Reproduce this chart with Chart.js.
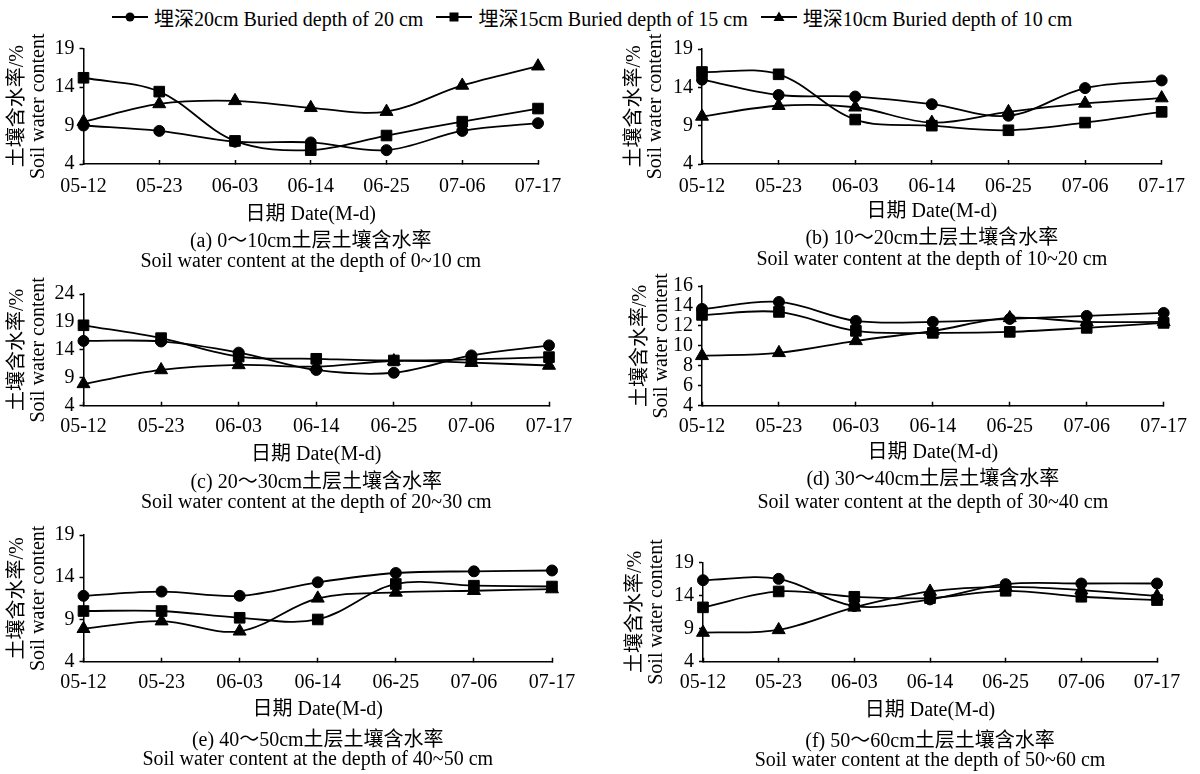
<!DOCTYPE html>
<html>
<head>
<meta charset="utf-8">
<script src="https://cdn.jsdelivr.net/npm/chart.js@4.4.1/dist/chart.umd.min.js"></script>
<style>
  html, body { margin: 0; padding: 0; background: #fff; }
  body { width: 1200px; height: 774px; position: relative; overflow: hidden;
         font-family: 'Liberation Serif', 'Noto Sans CJK SC', serif; color: #000; }
  canvas { position: absolute; }
  #legend { position: absolute; left: 112px; top: 5px; height: 24px; display: flex;
            align-items: center; font-size: 20px; white-space: nowrap; }
  #legend .item { display: flex; align-items: center; margin-right: 13px; }
  #legend svg { margin-right: 6px; }
</style>
</head>
<body>
<div id="legend"></div>
<canvas id="pa"></canvas>
<canvas id="pb"></canvas>
<canvas id="pc"></canvas>
<canvas id="pd"></canvas>
<canvas id="pe"></canvas>
<canvas id="pf"></canvas>
<script>
// Dates on the x axis
const dates = ['05-12', '05-23', '06-03', '06-14', '06-25', '07-06', '07-17'];

const seriesNames = [
    '埋深20cm Buried depth of 20 cm',
    '埋深15cm Buried depth of 15 cm',
    '埋深10cm Buried depth of 10 cm'
];

// (a) 0~10 cm
const a20 = [9.0, 8.3, 6.9, 6.8, 5.8, 8.3, 9.3];
const a15 = [15.2, 13.4, 7.0, 5.8, 7.7, 9.5, 11.2];
const a10 = [9.5, 11.8, 12.2, 11.3, 10.8, 14.2, 16.7];

// (b) 10~20 cm
const b20 = [15.0, 13.0, 12.8, 11.8, 10.3, 13.9, 14.9];
const b15 = [16.0, 15.7, 9.8, 9.0, 8.4, 9.4, 10.8];
const b10 = [10.2, 11.6, 11.4, 9.4, 10.8, 11.9, 12.6];

// (c) 20~30 cm
const c20 = [15.6, 15.5, 13.5, 10.4, 9.9, 13.0, 14.8];
const c15 = [18.4, 16.1, 12.8, 12.4, 12.1, 12.3, 12.7];
const c10 = [7.9, 10.4, 11.3, 11.0, 12.0, 11.7, 11.2];

// (d) 30~40 cm
const d20 = [13.7, 14.4, 12.5, 12.4, 12.7, 13.0, 13.3];
const d15 = [13.1, 13.4, 11.5, 11.3, 11.4, 11.8, 12.3];
const d10 = [9.0, 9.3, 10.5, 11.5, 12.8, 12.4, 12.4];

// (e) 40~50 cm
const e20 = [11.8, 12.3, 11.8, 13.4, 14.5, 14.7, 14.8];
const e15 = [10.0, 10.0, 9.2, 9.0, 13.2, 13.0, 12.9];
const e10 = [7.9, 8.8, 7.6, 11.5, 12.2, 12.4, 12.6];

// (f) 50~60 cm
const f20 = [16.3, 16.5, 12.4, 13.4, 15.7, 15.8, 15.8];
const f15 = [12.2, 14.6, 13.8, 13.6, 14.7, 13.8, 13.3];
const f10 = [8.4, 8.8, 12.2, 14.6, 15.3, 14.8, 13.9];

// y axis ranges [min, max, step]
const yRangeDefault = [4, 19, 5];
const yRangeC = [4, 24, 5];
const yRangeD = [4, 16, 2];

const yTitle = ['土壤含水率/%', 'Soil water content'];
const xTitle = '日期 Date(M-d)';

const captions = [
    ['(a) 0～10cm土层土壤含水率', 'Soil water content at the depth of 0~10 cm'],
    ['(b) 10～20cm土层土壤含水率', 'Soil water content at the depth of 10~20 cm'],
    ['(c) 20～30cm土层土壤含水率', 'Soil water content at the depth of 20~30 cm'],
    ['(d) 30～40cm土层土壤含水率', 'Soil water content at the depth of 30~40 cm'],
    ['(e) 40～50cm土层土壤含水率', 'Soil water content at the depth of 40~50 cm'],
    ['(f) 50～60cm土层土壤含水率', 'Soil water content at the depth of 50~60 cm']
];

const fontFamily = "'Liberation Serif', 'Noto Sans CJK SC', serif";
const pointStyles = ['circle', 'rect', 'triangle'];
const pointSizes = [5.5, 7.5, 7.5];

Chart.defaults.font.family = fontFamily;
Chart.defaults.font.size = 20;
Chart.defaults.color = '#000';

// Legend (html, markers in svg)
const legendMarks = [
    '<circle cx="18" cy="7" r="4.5" fill="#000"/>',
    '<rect x="13.5" y="2.5" width="9" height="9" fill="#000"/>',
    '<polygon points="18,1.5 23.5,11 12.5,11" fill="#000"/>'
];
const legendEl = document.getElementById('legend');
seriesNames.forEach((name, i) => {
    const item = document.createElement('div');
    item.className = 'item';
    item.innerHTML = '<svg width="36" height="14"><line x1="0" y1="7" x2="36" y2="7" stroke="#000" stroke-width="2"/>'
        + legendMarks[i] + '</svg><span>' + name + '</span>';
    legendEl.appendChild(item);
});

/**
 * Build one panel. box holds where the plot area sits on the page.
 */
function makePanel(id, series, yRange, caption, box) {
    const canvas = document.getElementById(id);
    // extra room above so the rotated y title is never cut by the canvas edge
    const canvasTop = Math.floor(box.top - 40);
    const padTop = box.top - canvasTop;
    const hx = box.to + 12;
    const capPad = box.c1 - hx - box.capLh / 2;
    const used = (box.bottom - canvasTop) + hx + capPad + 2 * box.capLh;
    const height = Math.ceil(used + 4);
    const padBottom = height - used;

    canvas.width = 600;
    canvas.height = height;
    canvas.style.left = box.col + 'px';
    canvas.style.top = canvasTop + 'px';
    canvas.style.width = '600px';
    canvas.style.height = height + 'px';

    new Chart(canvas, {
        type: 'line',
        data: {
            labels: dates,
            datasets: series.map((values, i) => ({
                label: seriesNames[i],
                data: values,
                borderColor: '#000',
                backgroundColor: '#000',
                borderWidth: 1.8,
                pointStyle: pointStyles[i],
                pointRadius: pointSizes[i],
                pointBorderWidth: 1,
                tension: 0.35,
                fill: false,
                clip: false
            }))
        },
        options: {
            responsive: false,
            animation: false,
            devicePixelRatio: 1,
            layout: {
                padding: { top: padTop, left: 0, right: box.col + 600 - box.right, bottom: padBottom }
            },
            plugins: {
                legend: { display: false },
                tooltip: { enabled: false },
                title: {
                    display: true,
                    position: 'bottom',
                    fullSize: false,
                    text: caption,
                    color: '#000',
                    font: { size: 20, weight: 'normal', lineHeight: box.capLh + 'px' },
                    padding: { top: capPad, bottom: 0 }
                }
            },
            scales: {
                x: {
                    type: 'category',
                    offset: false,
                    afterFit: (scale) => { scale.height = hx; },
                    border: { display: true, color: '#000', width: 1.5 },
                    grid: {
                        drawOnChartArea: false,
                        drawTicks: true,
                        tickLength: -4,
                        tickColor: '#000',
                        tickWidth: 1.5
                    },
                    ticks: {
                        autoSkip: false,
                        maxRotation: 0,
                        padding: box.lo - 8,
                        font: { size: 20 }
                    },
                    title: {
                        display: true,
                        text: xTitle,
                        font: { size: 20, lineHeight: 1.2 },
                        padding: { top: 0, bottom: 0 }
                    }
                },
                y: {
                    min: yRange[0],
                    max: yRange[1],
                    afterFit: (scale) => { scale.width = box.left - box.col; },
                    border: { display: true, color: '#000', width: 1.5 },
                    grid: {
                        drawOnChartArea: false,
                        drawTicks: true,
                        tickLength: 4,
                        tickColor: '#000',
                        tickWidth: 1.5
                    },
                    ticks: {
                        stepSize: yRange[2],
                        autoSkip: false,
                        padding: 5,
                        font: { size: 20 }
                    },
                    title: {
                        display: true,
                        text: yTitle,
                        font: { size: 20, lineHeight: '21px' },
                        padding: { top: box.yPad, bottom: 0 }
                    }
                }
            }
        }
    });
}

makePanel('pa', [a20, a15, a10], yRangeDefault, captions[0],
    { col: 0, left: 83.5, right: 538, top: 48.5, bottom: 164, yPad: 7, lo: 22.5, to: 51, c1: 78, capLh: 20 });
makePanel('pb', [b20, b15, b10], yRangeDefault, captions[1],
    { col: 600, left: 702, right: 1165, top: 49, bottom: 164, yPad: 24.5, lo: 23, to: 48, c1: 75, capLh: 21 });
makePanel('pc', [c20, c15, c10], yRangeC, captions[2],
    { col: 0, left: 83.5, right: 549, top: 294, bottom: 405.7, yPad: 7, lo: 21, to: 49, c1: 77, capLh: 20 });
makePanel('pd', [d20, d15, d10], yRangeD, captions[3],
    { col: 600, left: 702, right: 1172, top: 286, bottom: 405.7, yPad: 30.5, lo: 21, to: 47, c1: 74, capLh: 23 });
makePanel('pe', [e20, e15, e10], yRangeDefault, captions[4],
    { col: 0, left: 83.5, right: 552, top: 535, bottom: 661.7, yPad: 7, lo: 21, to: 48, c1: 79, capLh: 19 });
makePanel('pf', [f20, f15, f10], yRangeDefault, captions[5],
    { col: 600, left: 703, right: 1157, top: 562.3, bottom: 661.7, yPad: 25.5, lo: 21, to: 49, c1: 80, capLh: 19 });
</script>
</body>
</html>
